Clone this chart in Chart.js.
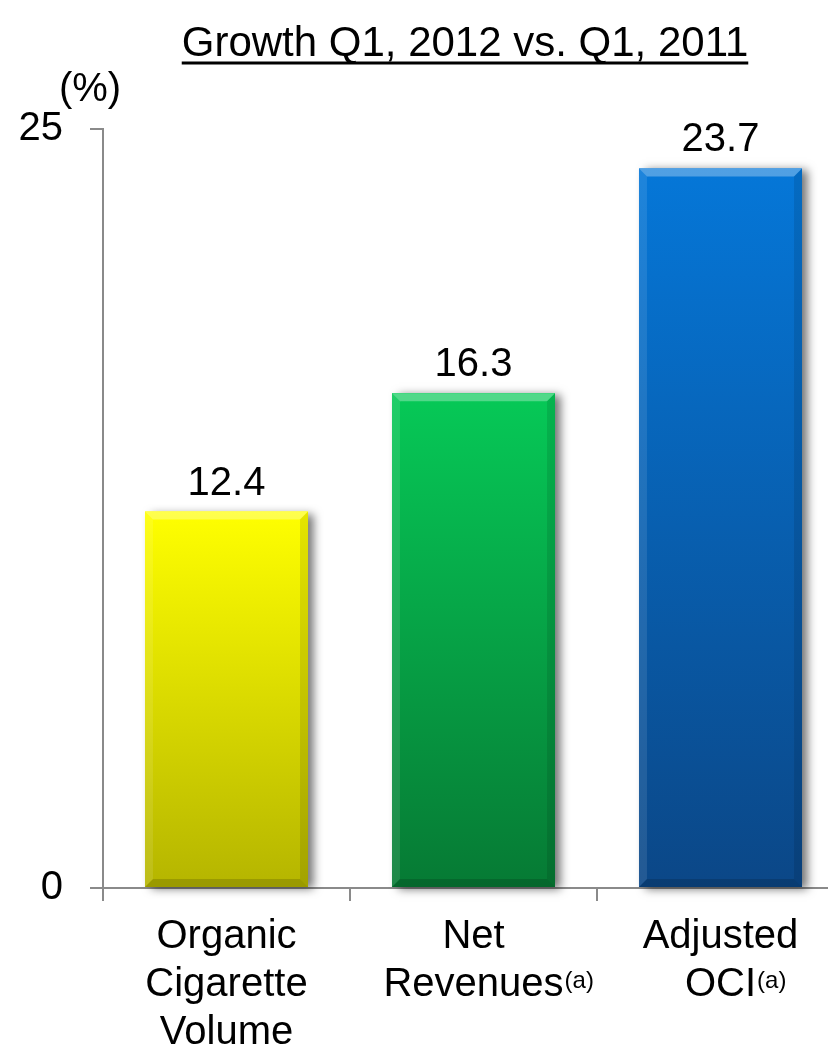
<!DOCTYPE html>
<html>
<head>
<meta charset="utf-8">
<script src="https://cdn.jsdelivr.net/npm/chart.js@4.4.1/dist/chart.umd.min.js"></script>
<style>
  html, body { margin: 0; padding: 0; background: #fff; overflow: hidden; }
  #wrap { width: 828px; height: 1055px; overflow: hidden; }
  canvas { display: block; }
</style>
</head>
<body>
<div id="wrap"><canvas id="growthChart" width="860" height="1055"></canvas></div>
<script>
const categories = [["Organic", "Cigarette", "Volume"], ["Net", "Revenues"], ["Adjusted", "OCI"]];
const footnotes = ["", "(a)", "(a)"];
const growth = [12.4, 16.3, 23.7];
const yTicks = [0, 25];
const barTop = ["#ffff00", "#06c957", "#0577d8"];
const barBottom = ["#b5b500", "#067a34", "#0b4787"];

const FONT = "'Liberation Sans', Arial, sans-serif";
const AXIS = "#8a8a8a";

// title, unit label, value labels, superscripts
const decor = {
    id: "decor",
    beforeDatasetsDraw(chart) {
        const ctx = chart.ctx;
        const meta = chart.getDatasetMeta(0);
        ctx.save();
        ctx.shadowColor = "rgba(0,0,0,0.55)";
        ctx.shadowBlur = 9;
        ctx.shadowOffsetX = 6;
        ctx.shadowOffsetY = 2;
        ctx.fillStyle = "#fff";
        meta.data.forEach(bar => {
            const w = bar.width;
            ctx.fillRect(bar.x - w / 2, bar.y, w, bar.base - bar.y);
        });
        ctx.restore();
    },
    afterDatasetsDraw(chart) {
        const ctx = chart.ctx;
        const meta = chart.getDatasetMeta(0);
        meta.data.forEach((bar, i) => {
            const l = bar.x - bar.width / 2, r = bar.x + bar.width / 2;
            const t = bar.y, b = bar.base, e = 8;
            const g = ctx.createLinearGradient(0, t, 0, b);
            g.addColorStop(0, barTop[i]);
            g.addColorStop(1, barBottom[i]);
            ctx.fillStyle = g;
            ctx.fillRect(l, t, r - l, b - t);
            // bevel edges
            const edge = (pts, col) => {
                ctx.beginPath();
                ctx.moveTo(pts[0][0], pts[0][1]);
                pts.slice(1).forEach(p => ctx.lineTo(p[0], p[1]));
                ctx.closePath();
                ctx.fillStyle = col;
                ctx.fill();
            };
            edge([[l, t], [r, t], [r - e, t + e], [l + e, t + e]], "rgba(255,255,255,0.3)");
            edge([[l, t], [l + e, t + e], [l + e, b - e], [l, b]], "rgba(255,255,255,0.1)");
            edge([[r, t], [r, b], [r - e, b - e], [r - e, t + e]], "rgba(0,0,0,0.1)");
            edge([[l, b], [l + e, b - e], [r - e, b - e], [r, b]], "rgba(0,0,0,0.15)");

            ctx.fillStyle = "#000";
            ctx.font = "40px " + FONT;
            ctx.textAlign = "center";
            ctx.textBaseline = "alphabetic";
            ctx.fillText(growth[i].toFixed(1), bar.x, t - 17);
        });
    },
    afterDraw(chart) {
        const ctx = chart.ctx;
        const x = chart.scales.x;
        ctx.save();
        ctx.fillStyle = "#000";
        ctx.strokeStyle = "#000";

        // title with underline
        ctx.font = "42px " + FONT;
        ctx.textAlign = "center";
        ctx.textBaseline = "alphabetic";
        const title = "Growth Q1, 2012 vs. Q1, 2011";
        const tw = ctx.measureText(title).width;
        ctx.fillText(title, 465, 56);
        ctx.lineWidth = 3;
        ctx.beginPath();
        ctx.moveTo(465 - tw / 2, 63);
        ctx.lineTo(465 + tw / 2, 63);
        ctx.stroke();

        ctx.font = "40px " + FONT;
        ctx.fillText("(%)", 90, 101);

        // footnote marks after the last line of a category label
        footnotes.forEach((fn, i) => {
            if (!fn) return;
            const lines = categories[i];
            const last = lines[lines.length - 1];
            ctx.font = "40px " + FONT;
            const w = ctx.measureText(last).width;
            const cx = x.getPixelForValue(i);
            const baseY = 949 + (lines.length - 1) * 48;
            ctx.font = "24px " + FONT;
            ctx.textAlign = "left";
            ctx.fillText(fn, cx + w / 2 + 1, baseY - 9);
        });
        ctx.restore();
    }
};

new Chart(document.getElementById("growthChart"), {
    type: "bar",
    data: {
        labels: categories,
        datasets: [{
            data: growth,
            backgroundColor: barTop,
            borderWidth: 0,
            barPercentage: 0.66,
            categoryPercentage: 1
        }]
    },
    options: {
        responsive: false,
        animation: false,
        layout: { padding: { top: 129, right: 16, left: 0, bottom: 0 } },
        plugins: { legend: { display: false }, tooltip: { enabled: false } },
        scales: {
            x: {
                afterFit: s => { s.height = 167; },
                border: { color: AXIS, width: 2 },
                grid: { offset: true, drawOnChartArea: false, color: AXIS, lineWidth: 2, tickLength: 13 },
                ticks: { color: "#000", font: { family: FONT, size: 40, lineHeight: 1.2 }, padding: 12, maxRotation: 0, autoSkip: false }
            },
            y: {
                min: 0, max: 25,
                afterFit: s => { s.width = 103; },
                afterBuildTicks: s => { s.ticks = yTicks.map(v => ({ value: v })); },
                border: { color: AXIS, width: 2 },
                grid: { drawOnChartArea: false, color: AXIS, lineWidth: 2, tickLength: 13 },
                ticks: { color: "#000", font: { family: FONT, size: 40 }, padding: 27 }
            }
        }
    },
    plugins: [decor]
});
</script>
</body>
</html>
